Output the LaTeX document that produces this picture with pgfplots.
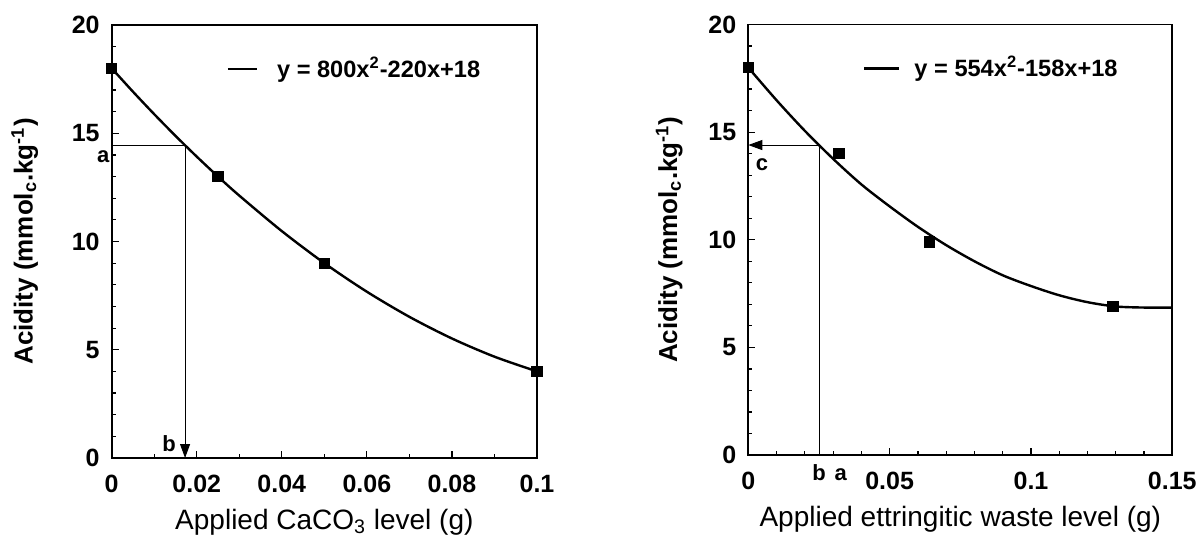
\documentclass[border=0pt]{standalone}
\usepackage{fontspec}
\setmainfont{Liberation Sans}
\usepackage{pgfplots}
\pgfplotsset{compat=1.18}
\usetikzlibrary{arrows.meta}
\begin{document}
\begin{tikzpicture}
\useasboundingbox (0pt,0pt) rectangle (599pt,270.5pt);
\pgfplotsset{
  every axis/.append style={
    scale only axis,
    axis line style={line width=0.9pt},
    tick style={line width=0.6pt, black},
    tick align=inside, tick pos=left,
    major tick length=3.5pt, minor tick length=2pt,
    ymin=0, ymax=20, ytick={0,5,10,15,20}, yticklabels={0,5,10,15,20},
    minor y tick num=4,
    ticklabel style={font=\fontsize{12.5}{14}\selectfont\bfseries},
    xticklabel style={yshift=-5pt},
    yticklabel style={xshift=-2.5pt},
    xlabel style={anchor=base, font=\fontsize{14}{16}\selectfont},
    ylabel style={anchor=center, font=\fontsize{13}{15}\selectfont\bfseries},
    clip=false,
  }
}
% ---------------- left panel ----------------
\begin{axis}[
  at={(55.85pt,41.5pt)}, anchor=south west,
  width=212.65pt, height=216.5pt,
  xmin=0, xmax=0.1,
  xtick={0,0.02,0.04,0.06,0.08,0.1},
  xticklabels={0,0.02,0.04,0.06,0.08,0.1},
  minor x tick num=1,
  xlabel={Applied CaCO\textsubscript{3} level (g)},
  ylabel={Acidity (mmol\textsubscript{c}.kg\textsuperscript{-1})},
  xlabel style={at={(axis description cs:0.5,-0.165)}},
  ylabel style={at={(axis description cs:-0.2046,0.5)}},
]
\addplot[black, line width=1.2pt, smooth, mark=none] coordinates {
 (0,18) (0.005,16.92) (0.01,15.88) (0.015,14.88) (0.02,13.92) (0.025,13.0)
 (0.03,12.12) (0.04,10.48) (0.05,9.0) (0.06,7.68) (0.07,6.52) (0.08,5.52)
 (0.09,4.68) (0.1,4.0)};
\addplot[only marks, mark=square*, mark size=2.6pt, black] coordinates {
 (0,18) (0.025,13) (0.05,9) (0.1,4)};
\addplot[black, line width=0.5pt, mark=none] coordinates {(0,14.44) (0.01725,14.44)};
\addplot[black, line width=0.5pt, mark=none, -{Triangle[length=7pt,width=5pt]}] coordinates {(0.01725,14.44) (0.01725,0)};
\node[anchor=base, inner sep=0pt, font=\fontsize{11}{13}\selectfont\bfseries] at (axis cs:-0.002,13.67) {a};
\node[anchor=base, inner sep=0pt, font=\fontsize{11}{13}\selectfont\bfseries] at (axis cs:0.0135,0.28) {b};
\draw[line width=1.2pt] (axis description cs:0.273,0.898) -- (axis description cs:0.341,0.898);
\node[anchor=base west, inner sep=0pt, font=\fontsize{11.8}{13}\selectfont\bfseries] at (axis description cs:0.388,0.879) {y = 800x\textsuperscript{2}-220x+18};
\end{axis}
% ---------------- right panel ----------------
\begin{axis}[
  at={(374.15pt,43pt)}, anchor=south west,
  width=212pt, height=215.25pt,
  xmin=0, xmax=0.15,
  xtick={0,0.05,0.1,0.15},
  xticklabels={0,0.05,0.1,0.15},
  minor x tick num=4,
  xlabel={Applied ettringitic waste level (g)},
  ylabel={Acidity (mmol\textsubscript{c}.kg\textsuperscript{-1})},
  xlabel style={at={(axis description cs:0.5,-0.165)}},
  ylabel style={at={(axis description cs:-0.1863,0.5)}},
]
\addplot[black, line width=1.2pt, smooth, mark=none] coordinates {
 (0,18) (0.01,16.48) (0.02,15.06) (0.03,13.76) (0.04,12.57) (0.05,11.55)
 (0.06,10.6) (0.07,9.75) (0.08,9.0) (0.09,8.35) (0.10,7.85) (0.11,7.42)
 (0.12,7.1) (0.13,6.9) (0.14,6.85) (0.15,6.85)};
\addplot[only marks, mark=square*, mark size=2.6pt, black] coordinates {
 (0,18) (0.032,14) (0.064,9.9) (0.129,6.9)};
\addplot[black, line width=0.5pt, mark=none] coordinates {(0.0251,0) (0.0251,14.40)};
\addplot[black, line width=0.5pt, mark=none, -{Triangle[length=7pt,width=5pt]}] coordinates {(0.0251,14.40) (0,14.40)};
\node[anchor=base, inner sep=0pt, font=\fontsize{11}{13}\selectfont\bfseries] at (axis cs:0.00485,13.24) {c};
\node[anchor=base, inner sep=0pt, font=\fontsize{11}{13}\selectfont\bfseries] at (axis cs:0.025,-1.2) {b};
\node[anchor=base, inner sep=0pt, font=\fontsize{11}{13}\selectfont\bfseries] at (axis cs:0.0327,-1.2) {a};
\draw[line width=1.2pt] (axis description cs:0.273,0.898) -- (axis description cs:0.355,0.898);
\node[anchor=base west, inner sep=0pt, font=\fontsize{11.8}{13}\selectfont\bfseries] at (axis description cs:0.391,0.880) {y = 554x\textsuperscript{2}-158x+18};
\end{axis}
\end{tikzpicture}
\end{document}
